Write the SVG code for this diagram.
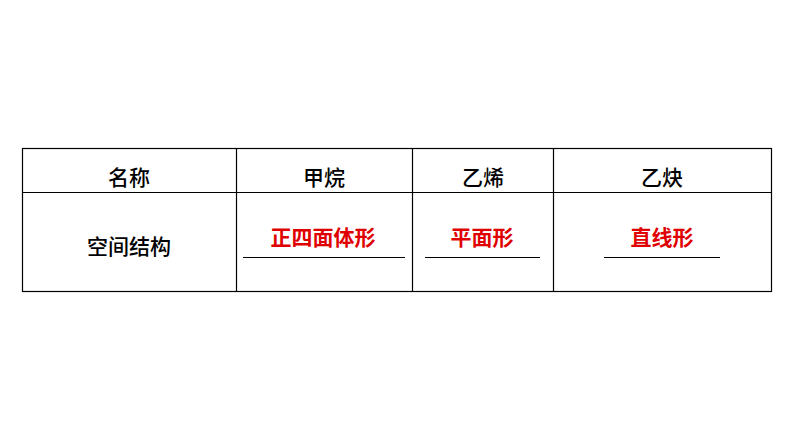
<svg xmlns="http://www.w3.org/2000/svg" width="794" height="447" viewBox="0 0 794 447">
<style>
.t{font-family:"Noto Sans CJK SC","Liberation Sans",sans-serif;font-size:21px;font-weight:500;text-anchor:middle;fill:#000}
.r{fill:#e00000;font-weight:bold}
.l{stroke:#000;stroke-width:1.2;fill:none}
</style>
<rect width="794" height="447" fill="#fff"/>
<g id="table">
<rect class="l" x="22.5" y="148.5" width="749" height="143"/>
<line class="l" x1="22.5" y1="192.5" x2="771.5" y2="192.5"/>
<line class="l" x1="236.5" y1="148.5" x2="236.5" y2="291.5"/>
<line class="l" x1="412.5" y1="148.5" x2="412.5" y2="291.5"/>
<line class="l" x1="553.5" y1="148.5" x2="553.5" y2="291.5"/>
</g>
<g id="header">
<text class="t" x="129" y="185">名称</text>
<text class="t" x="324" y="185">甲烷</text>
<text class="t" x="483" y="185">乙烯</text>
<text class="t" x="662" y="185">乙炔</text>
</g>
<g id="row2">
<text class="t" x="129" y="254">空间结构</text>
<text class="t r" x="323" y="245">正四面体形</text>
<text class="t r" x="482" y="245">平面形</text>
<text class="t r" x="662" y="245">直线形</text>
<line class="l" x1="243" y1="257.5" x2="405" y2="257.5"/>
<line class="l" x1="425" y1="257.5" x2="540" y2="257.5"/>
<line class="l" x1="604" y1="257.5" x2="720" y2="257.5"/>
</g>
</svg>
